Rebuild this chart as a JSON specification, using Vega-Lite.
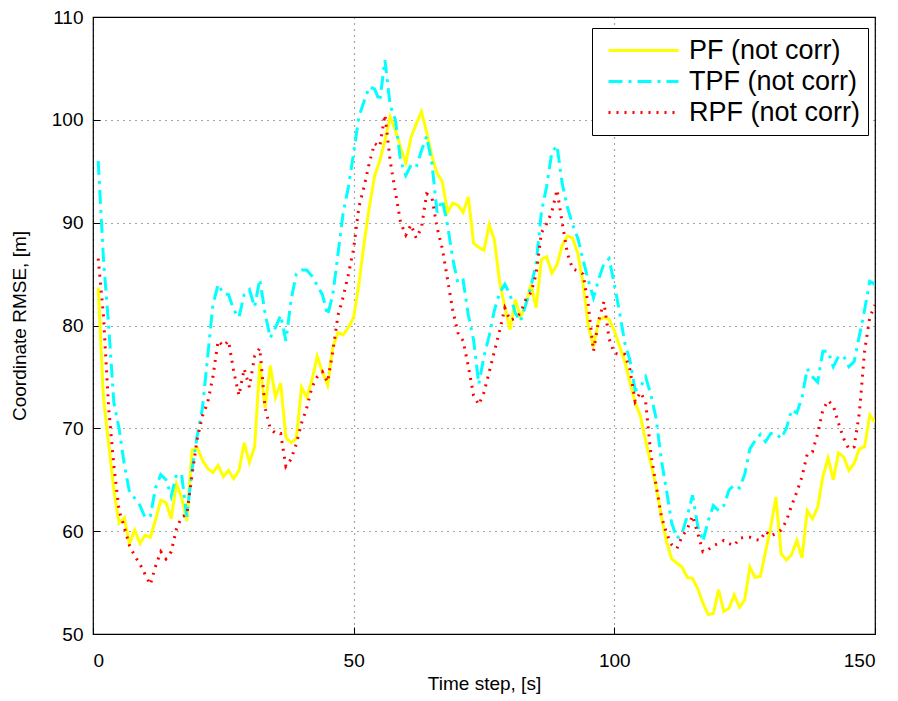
{
  "$schema": "https://vega.github.io/schema/vega-lite/v6.json",
  "width": 782,
  "height": 617,
  "autosize": {"type": "none"},
  "padding": {"left": 93, "top": 17, "right": 23, "bottom": 67},
  "background": "white",
  "config": {
    "font": "Liberation Sans",
    "view": {"stroke": "black", "strokeWidth": 1.2},
    "axis": {
      "labelFont": "Liberation Sans",
      "titleFont": "Liberation Sans",
      "labelFontSize": 19,
      "titleFontSize": 19,
      "titleFontWeight": "normal",
      "labelColor": "black",
      "titleColor": "black",
      "domainColor": "black",
      "tickColor": "black",
      "gridColor": "black",
      "gridDash": [1, 5],
      "gridOpacity": 0.7,
      "gridWidth": 1.2
    }
  },
  "data": {
    "values": [
      {"t":1,"PF":83.7,"TPF":96,"RPF":86.5},
      {"t":2,"PF":73,"TPF":86.5,"RPF":81},
      {"t":3,"PF":68.5,"TPF":80,"RPF":72},
      {"t":4,"PF":64,"TPF":72.5,"RPF":66.4},
      {"t":5,"PF":60.8,"TPF":70,"RPF":62},
      {"t":6,"PF":61.3,"TPF":66.5,"RPF":60.4},
      {"t":7,"PF":58.8,"TPF":63.8,"RPF":58.6},
      {"t":8,"PF":60.1,"TPF":63.2,"RPF":57.6},
      {"t":9,"PF":58.8,"TPF":62.5,"RPF":56.8},
      {"t":10,"PF":59.6,"TPF":61.3,"RPF":55.8},
      {"t":11,"PF":59.4,"TPF":61.5,"RPF":54.8},
      {"t":12,"PF":61.1,"TPF":64.2,"RPF":56.6},
      {"t":13,"PF":63,"TPF":65.5,"RPF":58},
      {"t":14,"PF":62.8,"TPF":65,"RPF":57.3},
      {"t":15,"PF":61.2,"TPF":63.4,"RPF":58},
      {"t":16,"PF":64.6,"TPF":65.5,"RPF":60.2},
      {"t":17,"PF":63.3,"TPF":65.5,"RPF":61.4},
      {"t":18,"PF":61,"TPF":61.4,"RPF":61.6},
      {"t":19,"PF":67.9,"TPF":66,"RPF":65.5},
      {"t":20,"PF":68.1,"TPF":69.3,"RPF":69},
      {"t":21,"PF":66.9,"TPF":72,"RPF":71.2},
      {"t":22,"PF":66.1,"TPF":77,"RPF":72.5},
      {"t":23,"PF":65.7,"TPF":82,"RPF":75},
      {"t":24,"PF":66.4,"TPF":84,"RPF":78.5},
      {"t":25,"PF":65.3,"TPF":83.1,"RPF":78},
      {"t":26,"PF":65.9,"TPF":83,"RPF":78.5},
      {"t":27,"PF":65.1,"TPF":81.5,"RPF":75.5},
      {"t":28,"PF":65.9,"TPF":80.8,"RPF":73.2},
      {"t":29,"PF":68.6,"TPF":83,"RPF":75.8},
      {"t":30,"PF":66.7,"TPF":83.5,"RPF":74},
      {"t":31,"PF":68.2,"TPF":81.8,"RPF":77},
      {"t":32,"PF":76.3,"TPF":84.5,"RPF":77.8},
      {"t":33,"PF":72,"TPF":81.2,"RPF":72},
      {"t":34,"PF":76.1,"TPF":78.8,"RPF":70},
      {"t":35,"PF":73,"TPF":79.8,"RPF":69.5},
      {"t":36,"PF":74.4,"TPF":81,"RPF":69.5},
      {"t":37,"PF":69.1,"TPF":78.5,"RPF":66.3},
      {"t":38,"PF":68.6,"TPF":82.5,"RPF":67},
      {"t":39,"PF":69,"TPF":85,"RPF":68.5},
      {"t":40,"PF":74,"TPF":85.4,"RPF":70.5},
      {"t":41,"PF":73,"TPF":85.4,"RPF":72},
      {"t":42,"PF":74.7,"TPF":84.8,"RPF":74},
      {"t":43,"PF":77,"TPF":83.9,"RPF":75},
      {"t":44,"PF":75.5,"TPF":83,"RPF":75.5},
      {"t":45,"PF":74.2,"TPF":81,"RPF":74.5},
      {"t":46,"PF":77.9,"TPF":83,"RPF":77.5},
      {"t":47,"PF":79.3,"TPF":87,"RPF":81},
      {"t":48,"PF":79.1,"TPF":91,"RPF":82.8},
      {"t":49,"PF":79.8,"TPF":93.5,"RPF":85},
      {"t":50,"PF":80.8,"TPF":96.8,"RPF":87.5},
      {"t":51,"PF":84,"TPF":100.3,"RPF":91.5},
      {"t":52,"PF":88,"TPF":101.8,"RPF":93.5},
      {"t":53,"PF":91.5,"TPF":103.2,"RPF":95.8},
      {"t":54,"PF":94.5,"TPF":103,"RPF":97.7},
      {"t":55,"PF":96,"TPF":101.8,"RPF":97.4},
      {"t":56,"PF":98,"TPF":105.8,"RPF":100.5},
      {"t":57,"PF":100.3,"TPF":101.4,"RPF":96},
      {"t":58,"PF":99,"TPF":100,"RPF":93},
      {"t":59,"PF":97.3,"TPF":96,"RPF":90},
      {"t":60,"PF":95.8,"TPF":94.6,"RPF":88.8},
      {"t":61,"PF":98.3,"TPF":95.6,"RPF":89.8},
      {"t":62,"PF":99.6,"TPF":95.4,"RPF":88.5},
      {"t":63,"PF":100.8,"TPF":97,"RPF":89.5},
      {"t":64,"PF":98.8,"TPF":98.4,"RPF":92.8},
      {"t":65,"PF":96.5,"TPF":95.8,"RPF":92.5},
      {"t":66,"PF":94.8,"TPF":91,"RPF":89.5},
      {"t":67,"PF":94,"TPF":92.2,"RPF":87.5},
      {"t":68,"PF":91,"TPF":89.8,"RPF":84.5},
      {"t":69,"PF":91.9,"TPF":86.5,"RPF":81.5},
      {"t":70,"PF":91.7,"TPF":84.1,"RPF":79.3},
      {"t":71,"PF":91,"TPF":84.4,"RPF":78.5},
      {"t":72,"PF":92.5,"TPF":81,"RPF":76},
      {"t":73,"PF":88,"TPF":78.6,"RPF":73.2},
      {"t":74,"PF":87.6,"TPF":74.3,"RPF":72.3},
      {"t":75,"PF":87.3,"TPF":77,"RPF":73.5},
      {"t":76,"PF":89.8,"TPF":79,"RPF":75.5},
      {"t":77,"PF":88.3,"TPF":81.5,"RPF":77.5},
      {"t":78,"PF":84.2,"TPF":83.2,"RPF":79.5},
      {"t":79,"PF":81.8,"TPF":84,"RPF":81.7},
      {"t":80,"PF":79.6,"TPF":83,"RPF":80.5},
      {"t":81,"PF":82.5,"TPF":81.2,"RPF":80.7},
      {"t":82,"PF":80.8,"TPF":80.4,"RPF":81.2},
      {"t":83,"PF":82,"TPF":82,"RPF":82.5},
      {"t":84,"PF":84,"TPF":83.8,"RPF":83.2},
      {"t":85,"PF":81.7,"TPF":86,"RPF":85},
      {"t":86,"PF":86.4,"TPF":91,"RPF":89},
      {"t":87,"PF":86.7,"TPF":93.5,"RPF":89.9},
      {"t":88,"PF":85.1,"TPF":96.8,"RPF":91},
      {"t":89,"PF":85.9,"TPF":97.5,"RPF":93.2},
      {"t":90,"PF":87.8,"TPF":93.8,"RPF":90},
      {"t":91,"PF":88.7,"TPF":91.5,"RPF":87},
      {"t":92,"PF":88.5,"TPF":89.8,"RPF":85.5},
      {"t":93,"PF":87,"TPF":88.5,"RPF":85.3},
      {"t":94,"PF":84.1,"TPF":86.4,"RPF":85},
      {"t":95,"PF":80,"TPF":84.4,"RPF":82},
      {"t":96,"PF":77.9,"TPF":82.7,"RPF":77.5},
      {"t":97,"PF":80.5,"TPF":84.5,"RPF":80.5},
      {"t":98,"PF":80.8,"TPF":86,"RPF":82.3},
      {"t":99,"PF":80.6,"TPF":86.5,"RPF":78.7},
      {"t":100,"PF":79.5,"TPF":84,"RPF":77.3},
      {"t":101,"PF":78,"TPF":81.3,"RPF":77.2},
      {"t":102,"PF":76.5,"TPF":78.3,"RPF":77.2},
      {"t":103,"PF":74.5,"TPF":76.6,"RPF":75.7},
      {"t":104,"PF":72.5,"TPF":73.7,"RPF":72.6},
      {"t":105,"PF":71.2,"TPF":74,"RPF":73.5},
      {"t":106,"PF":68.8,"TPF":75,"RPF":72.6},
      {"t":107,"PF":66.6,"TPF":73.3,"RPF":67.5},
      {"t":108,"PF":64.4,"TPF":71,"RPF":64.5},
      {"t":109,"PF":61.5,"TPF":67,"RPF":61.5},
      {"t":110,"PF":59,"TPF":64,"RPF":59.8},
      {"t":111,"PF":57.3,"TPF":60.8,"RPF":58.7},
      {"t":112,"PF":56.9,"TPF":59.3,"RPF":58.3},
      {"t":113,"PF":56.5,"TPF":59.8,"RPF":59.5},
      {"t":114,"PF":55.5,"TPF":61.5,"RPF":60.2},
      {"t":115,"PF":55.4,"TPF":63.5,"RPF":61.5},
      {"t":116,"PF":54.4,"TPF":60.5,"RPF":59.8},
      {"t":117,"PF":53,"TPF":59,"RPF":58},
      {"t":118,"PF":51.9,"TPF":61,"RPF":58.2},
      {"t":119,"PF":52,"TPF":62.5,"RPF":58.6},
      {"t":120,"PF":54.3,"TPF":62,"RPF":58.8},
      {"t":121,"PF":52.2,"TPF":62.5,"RPF":59.1},
      {"t":122,"PF":52.5,"TPF":64,"RPF":58.8},
      {"t":123,"PF":53.8,"TPF":64.5,"RPF":58.6},
      {"t":124,"PF":52.6,"TPF":64.2,"RPF":59.3},
      {"t":125,"PF":53.3,"TPF":65.5,"RPF":59.4},
      {"t":126,"PF":56.5,"TPF":68,"RPF":59.4},
      {"t":127,"PF":55.5,"TPF":68.8,"RPF":59.2},
      {"t":128,"PF":55.6,"TPF":69.4,"RPF":59.1},
      {"t":129,"PF":58,"TPF":68.7,"RPF":60},
      {"t":130,"PF":60.4,"TPF":69.5,"RPF":59.5},
      {"t":131,"PF":63.3,"TPF":69.5,"RPF":59.8},
      {"t":132,"PF":57.8,"TPF":69,"RPF":60.1},
      {"t":133,"PF":57.2,"TPF":70,"RPF":61},
      {"t":134,"PF":57.7,"TPF":71.8,"RPF":62.5},
      {"t":135,"PF":59.1,"TPF":71.5,"RPF":63.8},
      {"t":136,"PF":57.4,"TPF":73,"RPF":65.3},
      {"t":137,"PF":62,"TPF":75.8,"RPF":67.5},
      {"t":138,"PF":61.2,"TPF":75,"RPF":67.7},
      {"t":139,"PF":62.3,"TPF":74.5,"RPF":69.5},
      {"t":140,"PF":65.3,"TPF":77.5,"RPF":71.8},
      {"t":141,"PF":67.1,"TPF":77.5,"RPF":72.7},
      {"t":142,"PF":65,"TPF":76,"RPF":72.2},
      {"t":143,"PF":67.6,"TPF":77,"RPF":70.5},
      {"t":144,"PF":67.2,"TPF":77,"RPF":69},
      {"t":145,"PF":65.9,"TPF":76,"RPF":68},
      {"t":146,"PF":66.6,"TPF":76.5,"RPF":68.2},
      {"t":147,"PF":68,"TPF":79,"RPF":71.5},
      {"t":148,"PF":68.2,"TPF":81.5,"RPF":77.5},
      {"t":149,"PF":71.3,"TPF":84.3,"RPF":80.8},
      {"t":150,"PF":70.6,"TPF":84,"RPF":82}
    ]
  },
  "transform": [{"fold": ["PF", "TPF", "RPF"], "as": ["series", "value"]}],
  "encoding": {
    "x": {
      "field": "t", "type": "quantitative",
      "scale": {"domain": [0, 150], "nice": false, "zero": false},
      "axis": {"values": [0, 50, 100, 150], "title": "Time step, [s]", "tickSize": -7, "labelPadding": 24, "titlePadding": 4, "domain": false}
    },
    "y": {
      "field": "value", "type": "quantitative",
      "scale": {"domain": [50, 110], "nice": false, "zero": false},
      "axis": {"values": [50, 60, 70, 80, 90, 100, 110], "title": "Coordinate RMSE, [m]", "tickSize": -7, "labelPadding": 17, "titlePadding": 22, "domain": false}
    },
    "color": {
      "field": "series", "type": "nominal",
      "scale": {"domain": ["PF", "TPF", "RPF"], "range": ["#FFFF00", "#00FFFF", "#FF0000"]},
      "legend": {
        "title": null,
        "orient": "none",
        "legendX": 499,
        "legendY": 11,
        "labelExpr": "datum.label + ' (not corr)'",
        "labelFontSize": 27,
        "labelFont": "Liberation Sans",
        "labelColor": "black",
        "labelLimit": 400,
        "symbolType": "stroke",
        "symbolSize": 4900,
        "clipHeight": 31,
        "fillColor": "white",
        "strokeColor": "black",
        "padding": 7,
        "rowPadding": 0,
        "symbolOffset": 8,
        "labelOffset": 9
      }
    },
    "strokeDash": {
      "field": "series", "type": "nominal",
      "scale": {"domain": ["PF", "TPF", "RPF"], "range": [[1, 0], [14, 6, 3, 6], [2, 6]]}
    },
    "strokeWidth": {
      "field": "series", "type": "nominal",
      "scale": {"domain": ["PF", "TPF", "RPF"], "range": [3, 3, 1.5]}
    }
  },
  "layer": [
    {"transform": [{"filter": "datum.series == 'PF'"}], "mark": {"type": "line", "clip": true}},
    {"transform": [{"filter": "datum.series == 'TPF'"}], "mark": {"type": "line", "clip": true}},
    {"transform": [{"filter": "datum.series == 'RPF'"}], "mark": {"type": "line", "clip": true}}
  ]
}
